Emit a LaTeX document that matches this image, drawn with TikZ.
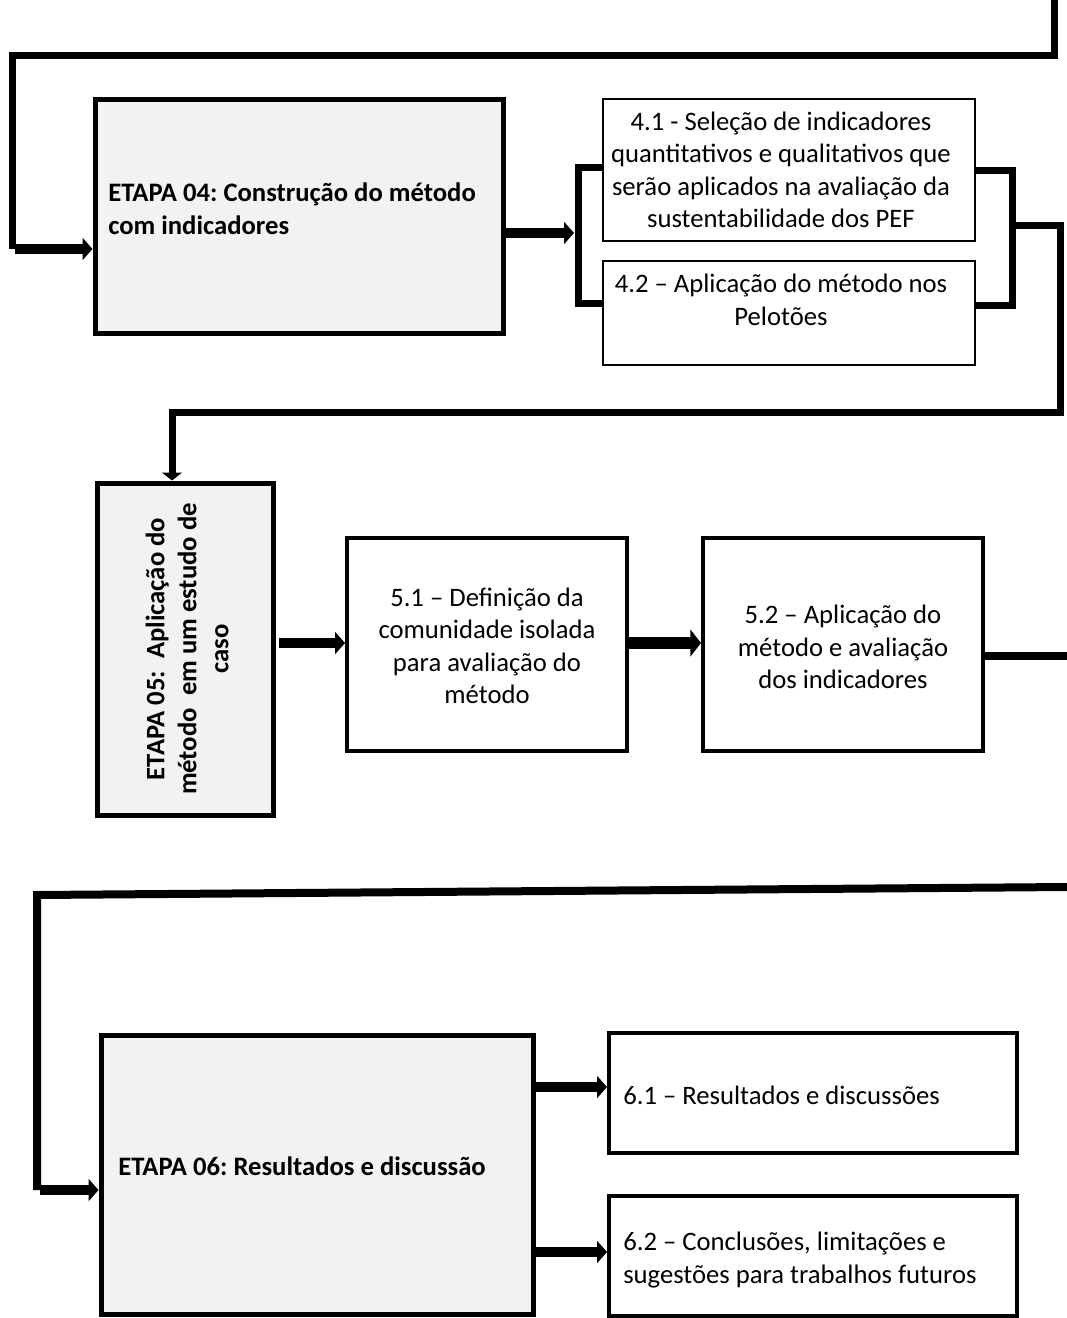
\documentclass[tikz,border=0pt]{standalone}
\usepackage{fontspec}
\setmainfont{Carlito}
\usetikzlibrary{arrows.meta,calc}
\definecolor{stagefill}{HTML}{F2F2F2}
\frenchspacing
\begin{document}
\begin{tikzpicture}[x=0.75pt,y=-0.75pt,
  stage/.style={draw=black,line width=3.75pt,fill=stagefill,inner sep=0pt},
  task/.style={draw=black,line width=3pt,fill=white,inner sep=0pt},
  thintask/.style={draw=black,line width=1.8pt,fill=white,inner sep=0pt},
  txt/.style={inner sep=0pt,font=\fontsize{20}{24.4}\selectfont,align=center},
  ltxt/.style={inner sep=0pt,font=\fontsize{20}{24.4}\selectfont,align=left},
  btxt/.style={inner sep=0pt,font=\fontsize{20}{24.4}\selectfont\bfseries,align=left},
  conn/.style={draw=black,line width=5.25pt,line join=miter},
  arr/.style={draw=black,line width=7.5pt,-{Triangle[length=7.5pt,width=16.5pt]}},
  bigarr/.style={draw=black,line width=9pt,-{Triangle[length=8pt,width=20pt]}},
  downarr/.style={conn,-{Triangle[length=6pt,width=15pt]}}]
\useasboundingbox (0,0) rectangle (1067,1318);

% ---- stage 4 ----
\node[stage,minimum width=306pt,minimum height=175.5pt] (e4) at (299,216) {};
\node[btxt,anchor=west] (t4) at (108,209) {ETAPA 04: Construção do método\\com indicadores};
\node[thintask,minimum width=279pt,minimum height=106.5pt] (b41) at (789,170) {};
\node[txt] (t41) at (781,170) {4.1 - Seleção de indicadores\\quantitativos e qualitativos que\\serão aplicados na avaliação da\\sustentabilidade dos PEF};
\node[thintask,minimum width=279pt,minimum height=78pt] (b42) at (789,313) {};
\node[txt] (t42) at (781,300) {4.2 – Aplicação do método nos\\Pelotões};

% ---- stage 5 ----
\node[stage,minimum width=132pt,minimum height=249pt] (e5) at (185,649) {};
\node[inner sep=0pt,rotate=90,align=center,
      font=\fontsize{20}{24}\selectfont\bfseries] (t5) at (187,649)
  {ETAPA 05:\ \ Aplicação do\\método\ \ em um estudo de\\caso};
\node[task,minimum width=210pt,minimum height=159.75pt] (b51) at (487,644.5) {};
\node[txt] (t51) at (487,646) {5.1 – Definição da\\comunidade isolada\\para avaliação do\\método};
\node[task,minimum width=210pt,minimum height=159.75pt] (b52) at (843,644.5) {};
\node[txt] (t52) at (843,647) {5.2 – Aplicação do\\método e avaliação\\dos indicadores};

% ---- stage 6 ----
\node[stage,minimum width=324pt,minimum height=209.25pt] (e6) at (317,1174.5) {};
\node[btxt,anchor=west] (t6) at (118,1166) {ETAPA 06: Resultados e discussão};
\node[task,minimum width=306pt,minimum height=90pt] (b61) at (813,1093) {};
\node[ltxt,anchor=west] (t61) at (623,1095) {6.1 – Resultados e discussões};
\node[task,minimum width=306pt,minimum height=90pt] (b62) at (813,1256) {};
\node[ltxt,anchor=west] (t62) at (623,1260) {6.2 – Conclusões, limitações e\\sugestões para trabalhos futuros};

% ---- route points ----
\coordinate (in0) at (1054,0);
\coordinate (in1) at (1054,55);
\coordinate (in2) at (12,55);
\coordinate (in3) at (12,249);
\coordinate (in4) at (15,249);
\coordinate (la) at (574,233);
\coordinate (lb1) at (578,167);
\coordinate (lb2) at (578,303);
\coordinate (rb1) at (1012,170);
\coordinate (rb2) at (1012,305);
\coordinate (rm) at (1012,225);
\coordinate (r1) at (1060,225);
\coordinate (r2) at (1060,412);
\coordinate (r3) at (172,412);
\coordinate (a5) at (279,643);
\coordinate (a55) at (628,643);
\coordinate (o5) at (1067,656);
\coordinate (q0) at (1067,887);
\coordinate (q1) at (37,895);
\coordinate (q2) at (37,1190);
\coordinate (q3) at (40,1190);
\coordinate (a61) at (536,1087);
\coordinate (a62) at (536,1252);

% ---- connectors ----
\draw[conn] (in0) -- (in1) -- (in2) -- (in3);
\draw[arr] (in4) -- (in4 -| e4.west);
\draw[arr] (la -| e4.east) -- (la);
\draw[conn] (lb1 -| b41.west) -- (lb1) -- (lb2) -- (lb2 -| b42.west);
\draw[conn] (rb1 -| b41.east) -- (rb1) -- (rb2) -- (rb2 -| b42.east);
\draw[downarr] (rm) -- (r1) -- (r2) -- (r3) -- (r3 |- e5.north);
\draw[arr] (a5) -- (a5 -| b51.west);
\draw[bigarr] (a55) -- (a55 -| b52.west);
\draw[conn,line width=6pt] (o5 -| b52.east) -- (o5);
\draw[conn,line width=6pt] (q0) -- (q1) -- (q2);
\draw[arr] (q3) -- (q3 -| e6.west);
\draw[arr] (a61) -- (a61 -| b61.west);
\draw[arr] (a62) -- (a62 -| b62.west);
\end{tikzpicture}
\end{document}
